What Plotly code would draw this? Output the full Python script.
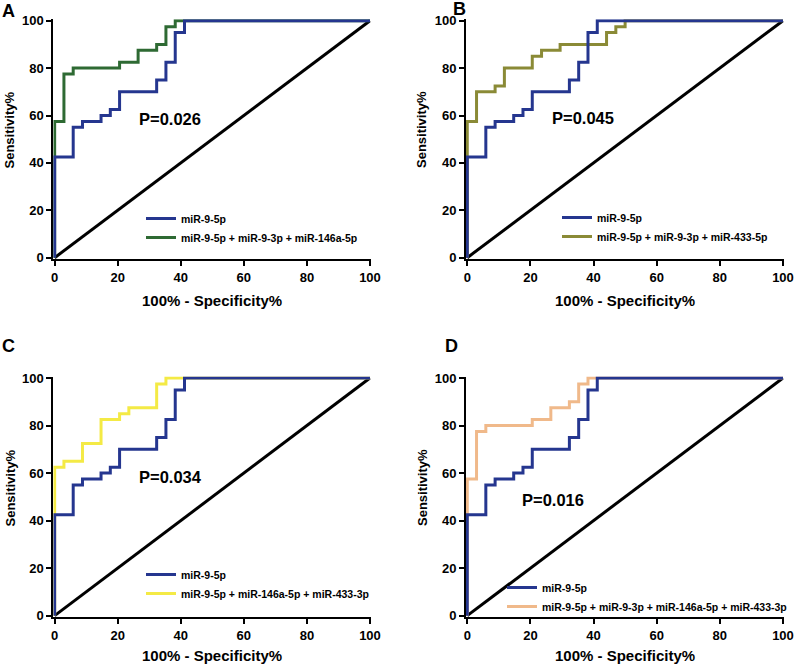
import plotly.graph_objects as go

# ---------------- data (ROC corner points: 100% - specificity, sensitivity) ----------------
mir95p_fpr = [0, 0, 5.88, 8.82, 14.71, 17.65, 20.59, 32.35, 35.29, 38.24, 41.18, 100]
mir95p_tpr = [0, 42.5, 55, 57.5, 60, 62.5, 70, 75, 82.5, 95, 100, 100]

comboA_fpr = [0, 0, 2.94, 5.88, 20.59, 26.47, 32.35, 35.29, 38.24, 100]
comboA_tpr = [0, 57.5, 77.5, 80, 82.5, 87.5, 90, 97.5, 100, 100]

comboB_fpr = [0, 0, 2.94, 8.82, 11.76, 20.59, 23.53, 29.41, 44.12, 47.06, 50, 100]
comboB_tpr = [0, 57.5, 70, 72.5, 80, 85, 87.5, 90, 95, 97.5, 100, 100]

comboC_fpr = [0, 0, 2.94, 8.82, 14.71, 20.59, 23.53, 32.35, 35.29, 100]
comboC_tpr = [0, 62.5, 65, 72.5, 82.5, 85, 87.5, 97.5, 100, 100]

comboD_fpr = [0, 0, 2.94, 5.88, 20.59, 26.47, 32.35, 35.29, 38.24, 100]
comboD_tpr = [0, 57.5, 77.5, 80, 82.5, 87.5, 90, 97.5, 100, 100]

ref_x = [0, 100]
ref_y = [0, 100]

panel_letters = ["A", "B", "C", "D"]
combo_names = [
    "miR-9-5p + miR-9-3p + miR-146a-5p",
    "miR-9-5p + miR-9-3p + miR-433-5p",
    "miR-9-5p + miR-146a-5p + miR-433-3p",
    "miR-9-5p + miR-9-3p + miR-146a-5p + miR-433-3p",
]
p_values = ["P=0.026", "P=0.045", "P=0.034", "P=0.016"]
p_pos = [(36.7, 58.6), (36.7, 59.0), (36.7, 58.4), (27.3, 48.7)]
x_ticks = [0, 20, 40, 60, 80, 100]
y_ticks = [0, 20, 40, 60, 80, 100]
x_title = "100% - Specificity%"
y_title = "Sensitivity%"

combos = [(comboA_fpr, comboA_tpr), (comboB_fpr, comboB_tpr),
          (comboC_fpr, comboC_tpr), (comboD_fpr, comboD_tpr)]
combo_colors = ["#2e6a33", "#8a8a36", "#f4ea45", "#f0b98a"]
blue = "#25368f"

# ---------------- layout geometry (page pixels) ----------------
W, H = 800, 666
FONT = "Liberation Sans, Arial, sans-serif"
xdom_px = [(53.4, 370.6), (466.0, 783.6), (53.4, 370.6), (466.0, 783.6)]
ydom_px = [(19.3, 259.1), (19.3, 259.1), (376.6, 617.1), (376.6, 617.1)]
legend_px = [(141, 204), (557, 203), (141, 560), (502, 573)]
letter_px = [(8, 11), (459, 9), (8, 346), (452, 346)]
xtitle_px = [(212, 300), (625, 300), (212, 655), (625, 655)]
ytitle_px = [(9.5, 130), (422, 130), (9.5, 488), (422, 488)]


def px_x(v):
    return v / W


def px_y(v):
    return 1 - v / H


fig = go.Figure()
layout = dict(
    width=W, height=H, margin=dict(l=0, r=0, t=0, b=0, autoexpand=False),
    paper_bgcolor="white", plot_bgcolor="white",
    font=dict(family=FONT, color="black", weight="bold"),
    annotations=[],
)

for i in range(4):
    sfx = "" if i == 0 else str(i + 1)
    xa, ya = "x" + sfx, "y" + sfx
    lg = "legend" + sfx
    fig.add_trace(go.Scatter(x=ref_x, y=ref_y, mode="lines", xaxis=xa, yaxis=ya,
                             line=dict(color="black", width=3), showlegend=False,
                             hoverinfo="skip"))
    cx, cy = combos[i]
    fig.add_trace(go.Scatter(x=cx, y=cy, mode="lines", xaxis=xa, yaxis=ya,
                             line=dict(color=combo_colors[i], width=3, shape="hv"),
                             name=combo_names[i], legend=lg, legendgroup="c%d" % i,
                             legendrank=2))
    fig.add_trace(go.Scatter(x=mir95p_fpr, y=mir95p_tpr, mode="lines", xaxis=xa, yaxis=ya,
                             line=dict(color=blue, width=3, shape="hv"),
                             name="miR-9-5p", legend=lg, legendgroup="b%d" % i,
                             legendrank=1))

    x0, x1 = xdom_px[i]
    y0, y1 = ydom_px[i]
    axis_common = dict(showline=True, linecolor="black", linewidth=2, ticks="outside",
                       ticklen=5, tickwidth=2, tickcolor="black", showgrid=False,
                       zeroline=False, automargin=False,
                       tickfont=dict(family=FONT, size=13, color="black", weight="bold"))
    layout["xaxis" + sfx] = dict(axis_common, domain=[px_x(x0), px_x(x1)],
                                 range=[-0.4, 100.2], tickvals=x_ticks, anchor=ya)
    layout["yaxis" + sfx] = dict(axis_common, domain=[px_y(y1), px_y(y0)],
                                 range=[-0.6, 100.6], tickvals=y_ticks, anchor=xa)
    lx, ly = legend_px[i]
    layout[lg] = dict(x=px_x(lx), y=px_y(ly), xanchor="left", yanchor="top",
                      bgcolor="rgba(0,0,0,0)", itemwidth=30, tracegroupgap=0,
                      traceorder="grouped",
                      font=dict(family=FONT, size=10.5, color="black", weight="bold"))
    px_, py_ = p_pos[i]
    layout["annotations"].append(dict(
        x=px_, y=py_, xref=xa, yref=ya, text=p_values[i], showarrow=False,
        font=dict(family=FONT, size=16.5, color="black", weight="bold")))
    lxp, lyp = letter_px[i]
    layout["annotations"].append(dict(
        x=px_x(lxp), y=px_y(lyp), xref="paper", yref="paper", text=panel_letters[i],
        showarrow=False, xanchor="center", yanchor="middle",
        font=dict(family=FONT, size=18, color="black", weight="bold")))
    tx, ty = xtitle_px[i]
    layout["annotations"].append(dict(
        x=px_x(tx), y=px_y(ty), xref="paper", yref="paper", text=x_title,
        showarrow=False, xanchor="center", yanchor="middle",
        font=dict(family=FONT, size=15, color="black", weight="bold")))
    tx, ty = ytitle_px[i]
    layout["annotations"].append(dict(
        x=px_x(tx), y=px_y(ty), xref="paper", yref="paper", text=y_title,
        showarrow=False, xanchor="center", yanchor="middle", textangle=-90,
        font=dict(family=FONT, size=13, color="black", weight="bold")))

fig.update_layout(**layout)
fig.write_html("out.html", config={"displayModeBar": False},
               post_script="document.body.style.margin='0px';")
